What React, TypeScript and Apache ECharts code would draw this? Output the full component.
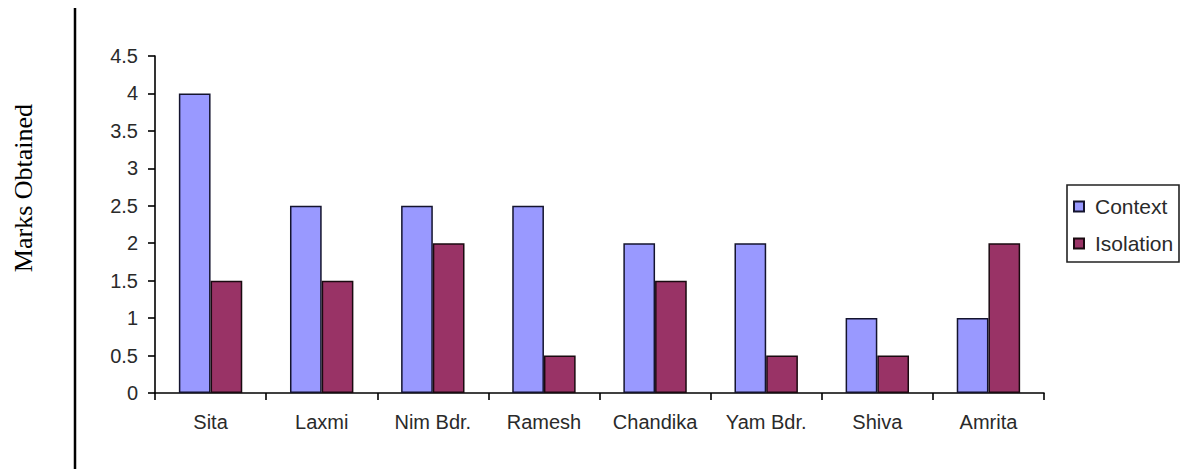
import React, { useEffect, useRef } from "react";
import * as echarts from "echarts";

const categories = ["Sita", "Laxmi", "Nim Bdr.", "Ramesh", "Chandika", "Yam Bdr.", "Shiva", "Amrita"];
const contextValues = [4, 2.5, 2.5, 2.5, 2, 2, 1, 1];
const isolationValues = [1.5, 1.5, 2, 0.5, 1.5, 0.5, 0.5, 2];
const seriesNames = ["Context", "Isolation"];
const yAxisTitle = "Marks Obtained";

export default function App() {
  const ref = useRef<HTMLDivElement>(null);
  useEffect(() => {
    if (!ref.current) return;
    const chart = echarts.init(ref.current, null, { renderer: "svg" });
    const labelFont = "Arial, 'Liberation Sans', sans-serif";
    chart.setOption({
      animation: false,
      backgroundColor: "#ffffff",
      grid: { left: 155, right: 156, top: 56, bottom: 76, containLabel: false },
      xAxis: {
        type: "category",
        data: categories,
        axisLine: { show: true, lineStyle: { color: "#000", width: 1.6 } },
        axisTick: { show: true, length: 7, interval: 0, lineStyle: { color: "#000", width: 1.6 } },
        axisLabel: { fontSize: 20, color: "#2a2a2a", fontFamily: labelFont, margin: 19, interval: 0 },
      },
      yAxis: {
        type: "value",
        min: 0,
        max: 4.5,
        interval: 0.5,
        axisLine: { show: true, lineStyle: { color: "#000", width: 1.6 } },
        axisTick: { show: true, length: 7, lineStyle: { color: "#000", width: 1.6 } },
        axisLabel: { fontSize: 20, color: "#2a2a2a", fontFamily: labelFont, margin: 17 },
        splitLine: { show: false },
      },
      legend: {
        orient: "vertical",
        left: 1073,
        top: 196,
        padding: 0,
        itemWidth: 10,
        itemHeight: 10,
        itemGap: 16,
        icon: "rect",
        textStyle: { fontSize: 21, color: "#2a2a2a", fontFamily: labelFont, lineHeight: 20, padding: [0, 0, 0, 6] },
        data: seriesNames,
      },
      graphic: [
        {
          type: "rect",
          z: -1,
          shape: { x: 1067, y: 185, width: 112, height: 77 },
          style: { fill: "#fff", stroke: "#222", lineWidth: 1.6 },
        },
        {
          type: "line",
          shape: { x1: 75, y1: 8, x2: 75, y2: 469 },
          style: { stroke: "#000", lineWidth: 2.5 },
        },
        {
          type: "text",
          x: 23,
          y: 188,
          rotation: Math.PI / 2,
          style: {
            text: yAxisTitle,
            font: "26px 'Liberation Serif', 'Times New Roman', serif",
            fill: "#000",
            align: "center",
            verticalAlign: "middle",
          },
        },
      ],
      series: [
        {
          name: seriesNames[0],
          type: "bar",
          data: contextValues,
          barWidth: 31.7,
          barGap: "0%",
          itemStyle: { color: "#9999FF", borderColor: "#14142e", borderWidth: 1.5 },
        },
        {
          name: seriesNames[1],
          type: "bar",
          data: isolationValues,
          barWidth: 31.7,
          barGap: "0%",
          itemStyle: { color: "#993366", borderColor: "#1a0a10", borderWidth: 1.5 },
        },
      ],
    });
    return () => chart.dispose();
  }, []);
  return (
    <div
      ref={ref}
      style={{ position: "fixed", left: 0, top: 0, width: 1200, height: 469 }}
    />
  );
}
